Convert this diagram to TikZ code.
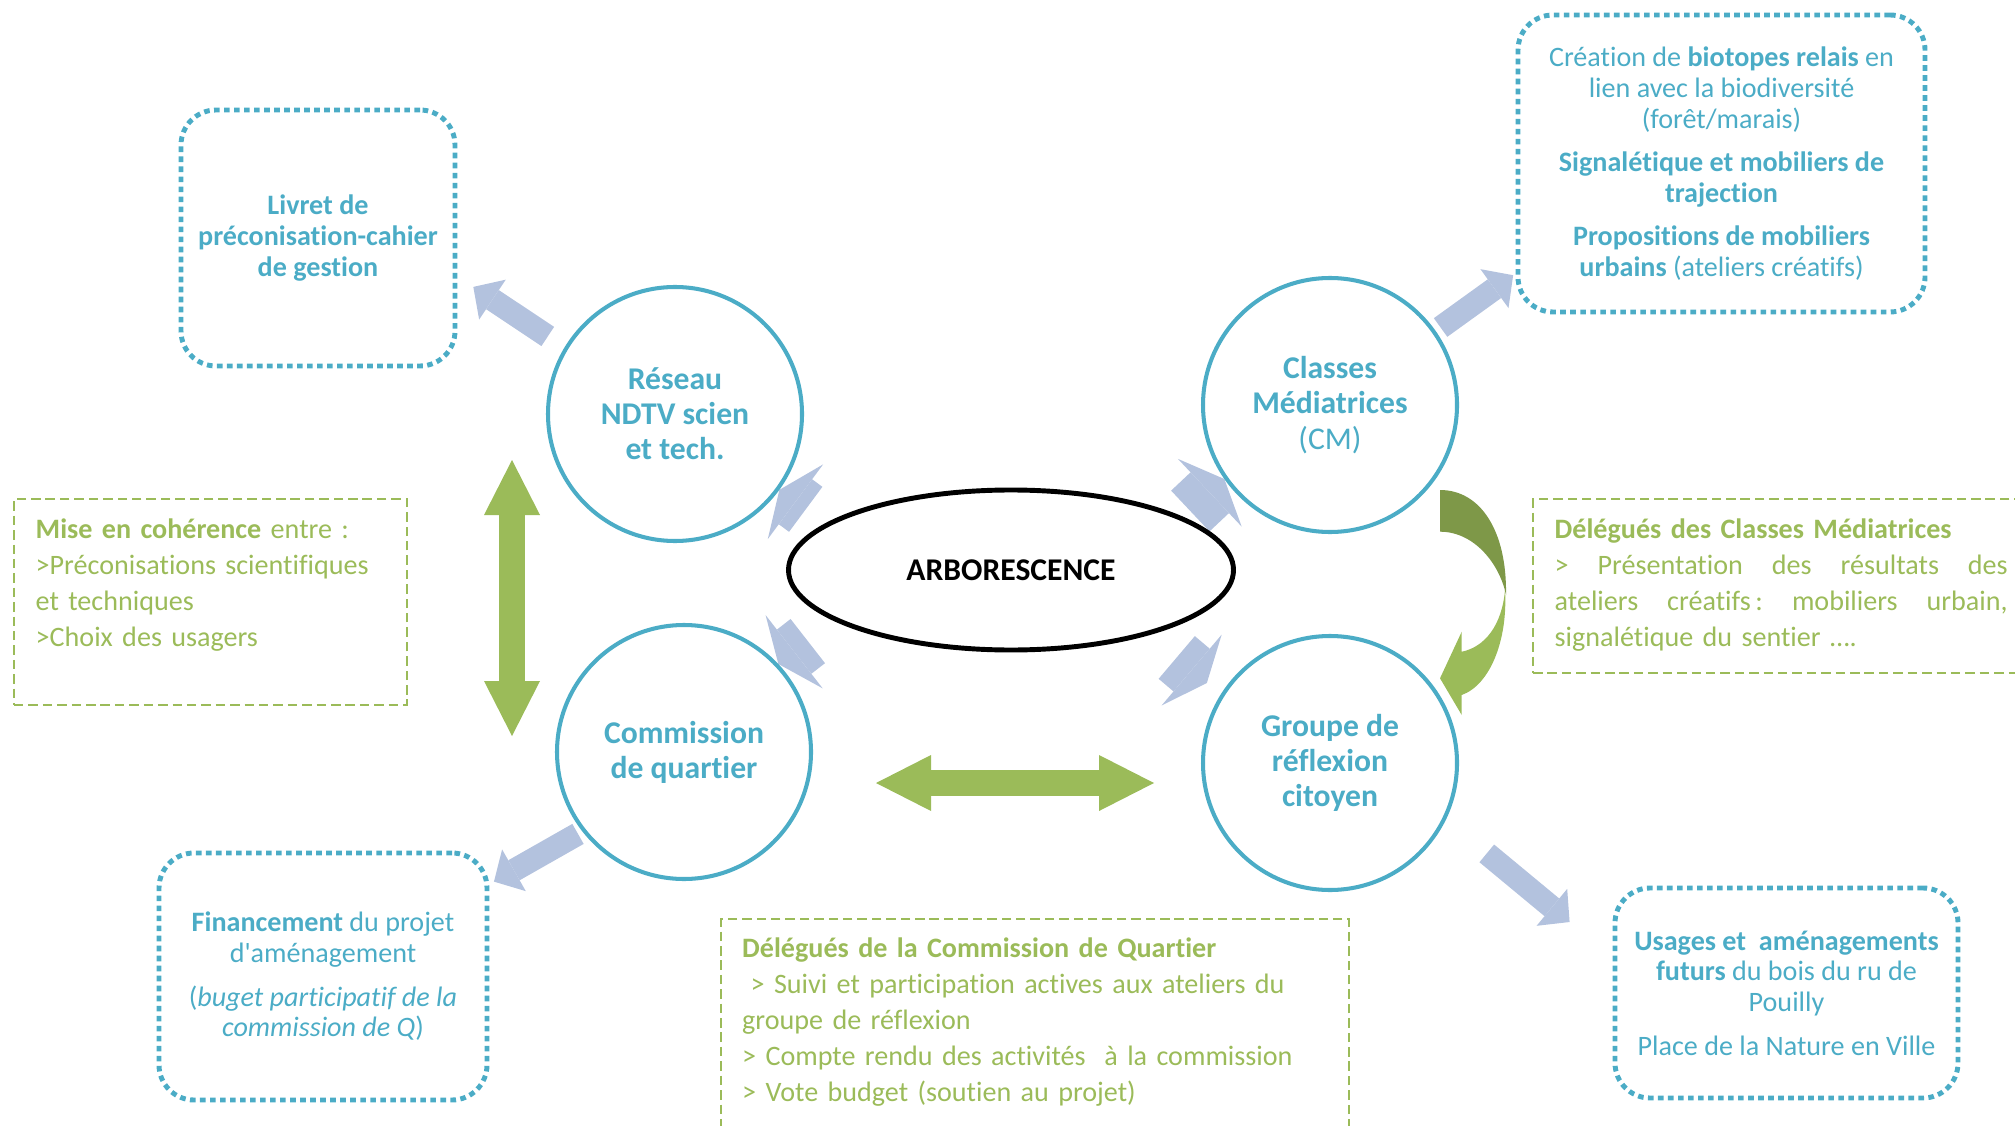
\documentclass[tikz,border=0pt]{standalone}
\usepackage{fontspec}
\setmainfont{Carlito}[Ligatures={NoCommon}]
\usetikzlibrary{arrows.meta, shapes.geometric, backgrounds, positioning}
\definecolor{cyanT}{RGB}{75,172,198}
\definecolor{greenT}{RGB}{155,187,89}
\definecolor{greenD}{RGB}{126,152,72}
\definecolor{blueA}{RGB}{179,194,222}

\begin{document}
\begin{tikzpicture}[
    circ/.style={circle, draw=cyanT, line width=1.15pt, fill=white, minimum size=2.54cm, inner sep=0pt, text=cyanT, align=center, font=\fontsize{9}{10}\selectfont\bfseries},
    arbo/.style={ellipse, draw=black, line width=1.4pt, fill=white, minimum width=4.45cm, minimum height=1.6cm, font=\fontsize{9}{10}\selectfont\bfseries},
    bbox/.style={rectangle, rounded corners=0.35cm, draw=cyanT, line width=1.4pt, dash pattern=on 1.6pt off 1.25pt, text=cyanT, align=center, inner sep=0pt, outer sep=0pt, font=\fontsize{8}{8.8}\selectfont},
    gbox/.style={rectangle, draw=greenT, line width=0.75pt, dash pattern=on 2.7pt off 1.4pt, inner sep=0pt, outer sep=0pt, anchor=north west},
    gtxt/.style={text=greenT, align=left, inner sep=0pt, anchor=base west, font=\fontsize{8}{10.25}\selectfont},
    barrow/.style={draw=blueA, line width=0.23cm, -{Triangle[length=0.23cm, width=0.48cm, line width=0pt]}},
    fatarrow/.style={draw=blueA, line width=0.56cm, -{Triangle[length=0.2cm, width=0.93cm, line width=0pt]}},
    garrow/.style={draw=greenT, line width=0.26cm, {Triangle[length=0.55cm, width=0.56cm, line width=0pt]}-{Triangle[length=0.55cm, width=0.56cm, line width=0pt]}}]
  \useasboundingbox (0,0) rectangle (20.15,11.25);
  \clip (0,0) rectangle (20.15,11.25);

  \node[circ] (res) at (6.75,7.11) {Réseau\\NDTV scien\\et tech.};
  \node[circ] (cm) at (13.30,7.20) {Classes\\Médiatrices\\{\mdseries (CM)}};
  \node[circ] (com) at (6.84,3.73) {Commission\\de quartier};
  \node[circ] (grp) at (13.30,3.62) {Groupe de\\réflexion\\citoyen};
  \node[arbo] (arb) at (10.11,5.55) {ARBORESCENCE};

  \node[bbox, minimum width=2.74cm, minimum height=2.56cm, font=\fontsize{8}{8.8}\selectfont\bfseries] (liv) at (3.18,8.87) {Livret de\\préconisation-cahier\\de gestion};
  \node[bbox, minimum width=4.07cm, minimum height=2.97cm] (bio) at (17.215,9.615) {Création de \textbf{biotopes relais} en\\lien avec la biodiversité\\(forêt/marais)\\[3.5pt]\textbf{Signalétique et mobiliers de}\\\textbf{trajection}\\[3.5pt]\textbf{Propositions de mobiliers}\\\textbf{urbains} (ateliers créatifs)};
  \node[bbox, minimum width=3.28cm, minimum height=2.47cm] (fin) at (3.23,1.485) {\textbf{Financement} du projet\\d\textquotesingle aménagement\\[3.5pt](\textit{buget participatif de la}\\\textit{commission de Q})};
  \node[bbox, minimum width=3.43cm, minimum height=2.10cm] (usa) at (17.865,1.32) {\textbf{Usages et\ \ aménagements}\\\textbf{futurs} du bois du ru de\\Pouilly\\[3.5pt]Place de la Nature en Ville};

  \node[gbox, minimum width=3.93cm, minimum height=2.06cm] (gcoh) at (0.14,6.26) {};
  \node[gtxt, text width=3.75cm] (tcoh) at ([xshift=0.21cm, yshift=-0.395cm]gcoh.north west) {\textbf{Mise en cohérence} entre :\\>Préconisations scientifiques\\et techniques\\>Choix des usagers};
  \node[gbox, minimum width=4.97cm, minimum height=1.74cm] (gdcm) at (15.33,6.26) {};
  \node[gtxt, text width=4.53cm] (tdcm) at ([xshift=0.21cm, yshift=-0.395cm]gdcm.north west) {\textbf{Délégués des Classes Médiatrices}\\\leavevmode\hbox to 4.53cm{>\hfill Présentation\hfill des\hfill résultats\hfill des}\\\leavevmode\hbox to 4.53cm{ateliers\hfill créatifs\,:\hfill mobiliers\hfill urbain,}\\signalétique du sentier ….};
  \node[gbox, minimum width=6.28cm, minimum height=2.3cm] (gdcq) at (7.21,2.06) {};
  \node[gtxt, text width=6cm] (tdcq) at ([xshift=0.205cm, yshift=-0.385cm]gdcq.north west) {\textbf{Délégués de la Commission de Quartier}\\\hspace*{0.3em}> Suivi et participation actives aux ateliers du\\groupe de réflexion\\> Compte rendu des activités\ \ à la commission\\> Vote budget (soutien au projet)};

  \begin{scope}[on background layer]
    \draw[barrow, shorten <=0.2cm, shorten >=0.22cm] (res.149) -- (liv.-15);
    \draw[barrow, shorten <=0.06cm, shorten >=0.06cm] (cm.35) -- (bio.208);
    \draw[barrow, shorten <=0.05cm, shorten >=0.08cm] (com.218) -- (fin.29);
    \draw[barrow, shorten <=0.53cm, shorten >=0.59cm] (grp.-26) -- (usa.169);
    \draw[fatarrow, shorten <=0.24cm] (arb.166) -- (res.-36);
    \draw[fatarrow, shorten <=0.09cm] (arb.17) -- (cm.215);
    \draw[fatarrow, shorten <=0.33cm] (arb.196) -- (com.43);
    \draw[fatarrow, shorten <=0.35cm, shorten >=0.18cm] (arb.-25) -- (grp.148);
  \end{scope}

  \coordinate (vt) at (5.12,6.65);
  \coordinate (vb) at (5.12,3.89);
  \coordinate (hl) at (8.76,3.42);
  \coordinate (hr) at (11.54,3.42);
  \draw[garrow] (vt) -- (vb);
  \draw[garrow] (hl) -- (hr);

  \fill[greenD] (14.40,6.35) .. controls (14.80,6.35) and (15.07,5.95) .. (15.06,5.30) .. controls (15.0,5.60) and (14.75,5.933) .. (14.40,5.933) -- cycle;
  \fill[greenT] (15.05,5.35) .. controls (15.08,4.85) and (14.90,4.40) .. (14.617,4.30) -- (14.617,4.10) -- (14.40,4.467) -- (14.617,4.933) -- (14.617,4.733) .. controls (14.85,4.78) and (15.02,5.0) .. (15.05,5.35) -- cycle;
\end{tikzpicture}
\end{document}
